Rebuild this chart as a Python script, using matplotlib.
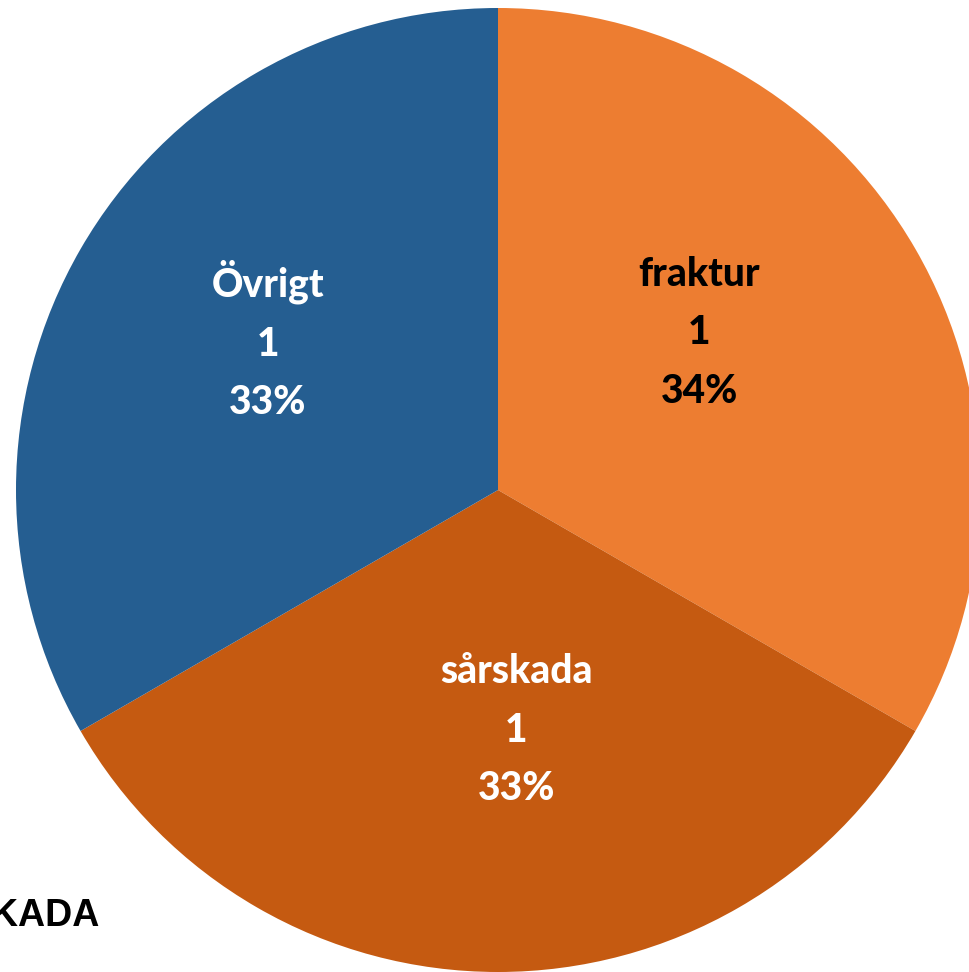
import matplotlib.pyplot as plt
import numpy as np

# Data
kategorier = ['fraktur', 'sårskada', 'Övrigt']
antal = [1, 1, 1]
procent = ['34%', '33%', '33%']
farger = ['#ED7D31', '#C55A11', '#255E91']
textfarg = ['black', 'white', 'white']

fig = plt.figure(figsize=(9.7, 9.72), dpi=100)
ax = fig.add_axes([0, 0, 1, 1])

cx, cy, r = 498, 482, 482
wedges, _ = ax.pie(antal, colors=farger, startangle=90, counterclock=False,
                   center=(cx, cy), radius=r, frame=True)
ax.set_xlim(0, 970)
ax.set_ylim(0, 972)
ax.set_aspect('equal')
ax.axis('off')

# etikettplacering (avstand, vinkeljustering) per tarta
avst = [0.53, 0.50, 0.57]
vjust = [8, 4.3, -3]
for w, kat, n, p, tf, a, dv in zip(wedges, kategorier, antal, procent, textfarg, avst, vjust):
    vinkel = np.deg2rad((w.theta1 + w.theta2) / 2 + dv)
    x = cx + a * r * np.cos(vinkel)
    y = cy + a * r * np.sin(vinkel)
    ax.text(x, y, f'{kat}\n{n}\n{p}', ha='center', va='center', color=tf,
            fontsize=28, fontweight=900, family='Lato', linespacing=1.72)

ax.text(100, 56, 'SKADA', ha='right', va='center', fontsize=27,
        fontweight='bold', family='Liberation Sans', color='black')

fig.savefig('out.png', dpi=100)
